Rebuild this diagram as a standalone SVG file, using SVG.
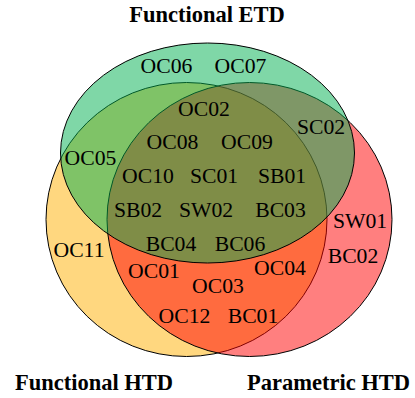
<svg xmlns="http://www.w3.org/2000/svg" width="415" height="398" viewBox="0 0 415 398">
<style>
.set{stroke:#000;stroke-width:1;fill-opacity:0.5}
.lbl{font-family:"Liberation Serif","Times New Roman",serif;font-size:21.7px;fill:#000;text-anchor:middle}
.ttl{font-family:"Liberation Serif","Times New Roman",serif;font-size:22.5px;font-weight:bold;fill:#000;text-anchor:middle}
</style>
<rect width="415" height="398" fill="#fff"/>
<g id="sets">
<ellipse id="functional-htd" class="set" cx="186.5" cy="219.5" rx="140.5" ry="137" fill="#ffb000"/>
<ellipse id="parametric-htd" class="set" cx="249.5" cy="219.5" rx="142.5" ry="137" fill="#ff0000"/>
<ellipse id="functional-etd" class="set" cx="207.5" cy="153" rx="147" ry="110" fill="#00b050"/>
</g>
<g id="titles">
<text class="ttl" x="207" y="21.5">Functional ETD</text>
<text class="ttl" x="94" y="390">Functional HTD</text>
<text class="ttl" x="328.5" y="390">Parametric HTD</text>
</g>
<g id="labels">
<text class="lbl" x="166.5" y="72.7">OC06</text>
<text class="lbl" x="240.5" y="72.7">OC07</text>
<text class="lbl" x="204" y="116">OC02</text>
<text class="lbl" x="321" y="134">SC02</text>
<text class="lbl" x="172.5" y="148.7">OC08</text>
<text class="lbl" x="247" y="148.7">OC09</text>
<text class="lbl" x="90.5" y="165">OC05</text>
<text class="lbl" x="148" y="182.7">OC10</text>
<text class="lbl" x="214" y="182.7">SC01</text>
<text class="lbl" x="282" y="182.7">SB01</text>
<text class="lbl" x="138" y="216.7">SB02</text>
<text class="lbl" x="206" y="216.7">SW02</text>
<text class="lbl" x="280.5" y="216.7">BC03</text>
<text class="lbl" x="360" y="227.7">SW01</text>
<text class="lbl" x="79" y="256.7">OC11</text>
<text class="lbl" x="171" y="250.7">BC04</text>
<text class="lbl" x="240" y="250.7">BC06</text>
<text class="lbl" x="353" y="263.3">BC02</text>
<text class="lbl" x="154" y="278.3">OC01</text>
<text class="lbl" x="280" y="275">OC04</text>
<text class="lbl" x="218" y="293.3">OC03</text>
<text class="lbl" x="184.5" y="323.3">OC12</text>
<text class="lbl" x="253" y="323.3">BC01</text>
</g>
</svg>
